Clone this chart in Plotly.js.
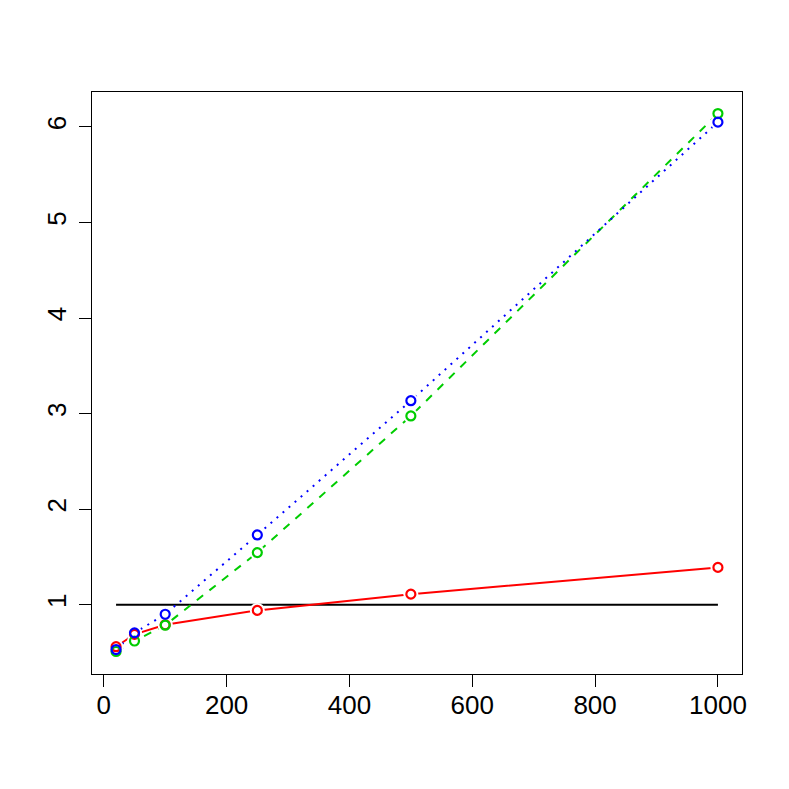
<!DOCTYPE html>
<html>
<head>
<meta charset="utf-8">
<script src="https://cdn.plot.ly/plotly-3.0.1.min.js"></script>
<style>html,body{margin:0;padding:0;background:#fff;}</style>
</head>
<body>
<div id="chart" style="width:789px;height:789px;"></div>
<script>
const xValues = [20, 50, 100, 250, 500, 1000];
const redValues = [0.56, 0.69, 0.79, 0.94, 1.11, 1.39];
const greenValues = [0.51, 0.62, 0.785, 1.545, 2.975, 6.14];
const blueValues = [0.53, 0.705, 0.90, 1.73, 3.135, 6.05];
const refX = [20, 1000];
const refY = [1, 1];
const xTicks = [0, 200, 400, 600, 800, 1000];
const yTicks = [1, 2, 3, 4, 5, 6];

const series = [
  {y: redValues, color: '#FF0000', dash: 'solid'},
  {y: greenValues, color: '#00CD00', dash: '8px,8px'},
  {y: blueValues, color: '#0000FF', dash: '2px,6px'}
];

const traces = [];
traces.push({x: refX, y: refY, mode: 'lines', line: {color: '#000000', width: 2}, hoverinfo: 'skip'});
series.forEach(s => traces.push({x: xValues, y: s.y, mode: 'lines', line: {color: s.color, width: 2, dash: s.dash}}));
series.forEach(s => traces.push({x: xValues, y: s.y, mode: 'markers', marker: {symbol: 'circle', size: 15, color: '#FFFFFF', line: {width: 0}}}));
series.forEach(s => traces.push({x: xValues, y: s.y, mode: 'markers', marker: {symbol: 'circle-open', size: 9, color: s.color, line: {color: s.color, width: 2.2}}}));

const axisCommon = {
  showgrid: false, zeroline: false, showline: true, mirror: true,
  linecolor: '#000000', linewidth: 1, ticks: 'outside', ticklen: 12,
  tickcolor: '#000000', tickwidth: 1,
  tickfont: {family: 'Liberation Sans, Arial, sans-serif', size: 26, color: '#000000'}
};

const layout = {
  width: 789, height: 789,
  margin: {l: 92, r: 47, t: 92, b: 115},
  paper_bgcolor: '#FFFFFF', plot_bgcolor: '#FFFFFF',
  showlegend: false,
  xaxis: Object.assign({}, axisCommon, {range: [-19.2, 1039.2], tickvals: xTicks, ticktext: xTicks.map(String), ticklabelstandoff: -4}),
  yaxis: Object.assign({}, axisCommon, {range: [0.2744, 6.3656], tickvals: yTicks, ticktext: yTicks.map(String), tickangle: -90, ticklabelstandoff: 3})
};

Plotly.newPlot('chart', traces, layout, {staticPlot: true, displayModeBar: false});
</script>
</body>
</html>
